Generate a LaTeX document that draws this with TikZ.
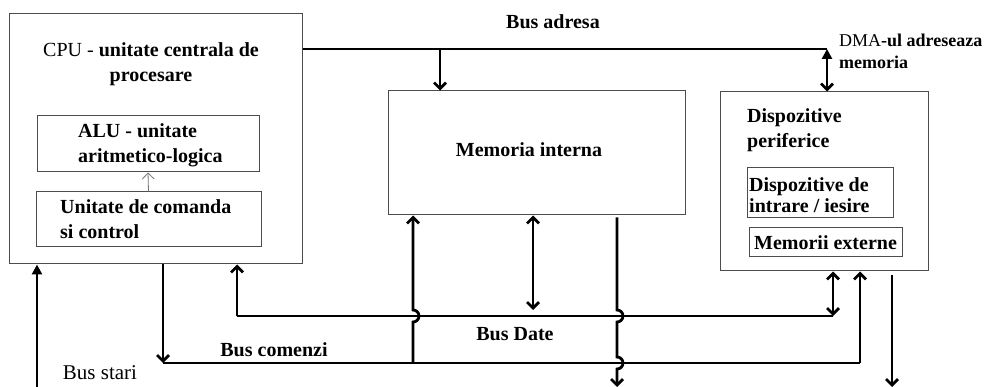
\documentclass[tikz,border=0pt]{standalone}
\usepackage{fontspec}
\setmainfont{Liberation Serif}
\usepackage{tikz}
\usetikzlibrary{arrows.meta,positioning,calc}
\newcommand{\lbfont}{\fontsize{20}{25}\selectfont\bfseries}
\newcommand{\smfont}{\fontsize{18}{22}\selectfont\bfseries}

\begin{document}
\begin{tikzpicture}[
    x=1pt, y=-1pt,
    box/.style={draw=black!70, line width=1pt, inner sep=0pt},
    lbl/.style={font=\lbfont, inner sep=0pt},
    bus/.style={line width=2.8pt},
    >={Straight Barb[length=6pt,width=12pt]},
    fat/.tip={Triangle[length=10pt,width=10pt]}
]
\useasboundingbox (0,0) rectangle (990,387);
% blocks
\node[box, minimum width=293pt, minimum height=250pt] (cpu) at (155.5,139) {};
\node[box, minimum width=222pt, minimum height=56pt] (alu) at (148,144) {};
\node[box, minimum width=225pt, minimum height=55pt] (cmd) at (148.5,219.5) {};
\node[box, minimum width=297pt, minimum height=124pt] (mem) at (536.5,153) {};
\node[box, minimum width=208pt, minimum height=179pt] (per) at (824,181.5) {};
\node[box, minimum width=146pt, minimum height=50pt] (io) at (820,193) {};
\node[box, minimum width=153pt, minimum height=29pt] (ext) at (825.5,242.5) {};
% texts
\node[lbl, align=center] (cpulbl) at (151,64.5) {{\mdseries CPU -} unitate centrala de\\procesare};
\node[lbl, align=left, anchor=west] (alulbl) at (78,145.5) {ALU - unitate\\aritmetico-logica};
\node[lbl, align=left, anchor=west] (cmdlbl) at (60,219.5) {Unitate de comanda\\si control};
\node[lbl] (memlbl) at (529,150) {Memoria interna};
\node[lbl, align=left, anchor=west] (perlbl) at (747,130.5) {Dispozitive\\periferice};
\node[lbl, align=left, anchor=west, font=\fontsize{20}{21}\selectfont\bfseries] (iolbl) at (749,195.5) {Dispozitive de\\intrare / iesire};
\node[lbl] (extlbl) at (825.5,242.5) {Memorii externe};
\node[lbl, font=\smfont, align=left, anchor=west] (dmalbl) at (839,51) {{\mdseries DMA}-ul adreseaza\\memoria};
\node[lbl] (adrlbl) at (553,22) {Bus adresa};
\node[lbl] (datlbl) at (515,334) {Bus Date};
\node[lbl] (comlbl) at (274,350) {Bus comenzi};
\node[lbl, font=\fontsize{21}{25}\selectfont] (stlbl) at (100,373) {Bus stari};
% bus points
\coordinate (adrM) at (440,49);
\coordinate (adrR) at (827,49);
\coordinate (datL) at (237,316);
\coordinate (datM) at (533,310);
\coordinate (datR) at (833,316);
\coordinate (comL) at (163,363);
\coordinate (comM) at (413,363);
\coordinate (comR) at (860,363);
\coordinate (stL) at (37,387);
\coordinate (outM) at (617,387);
\coordinate (outR) at (892,387);
% connectors
\draw[->, black!55, line width=0.8pt] (cmd.north) -- (alu.south);
\draw[bus] (cpu.east |- adrR) -- (adrR);
\draw[bus, ->] (adrM) -- (adrM |- mem.north);
\draw[bus, {fat}-{>}] (adrR) -- (adrR |- per.north);
\draw[bus, -{fat}] (stL) -- (stL |- cpu.south);
\draw[bus, ->] (cpu.south -| comL) -- (comL);
\draw[bus] (comL) -- (comR);
\draw[bus, ->] (comR) -- (comR |- per.south);
\draw[bus] (datL) -- (datR);
\draw[bus, ->] (datL) -- (datL |- cpu.south);
\draw[bus, <->] (datR) -- (datR |- per.south);
\draw[bus, <->] (datM) -- (datM |- mem.south);
\draw[bus, ->] (comM) -- ++(0,-41) arc[start angle=-90, end angle=90, radius=6pt] -- (comM |- mem.south);
\draw[bus, ->] ($(mem.south -| outM)+(0,2)$) -- (617,310) arc[start angle=90, end angle=-90, radius=6pt]
    -- (617,357) arc[start angle=90, end angle=-90, radius=6pt] -- (outM);
\draw[bus, ->] ($(per.south -| outR)+(0,4)$) -- (outR);
\end{tikzpicture}
\end{document}
